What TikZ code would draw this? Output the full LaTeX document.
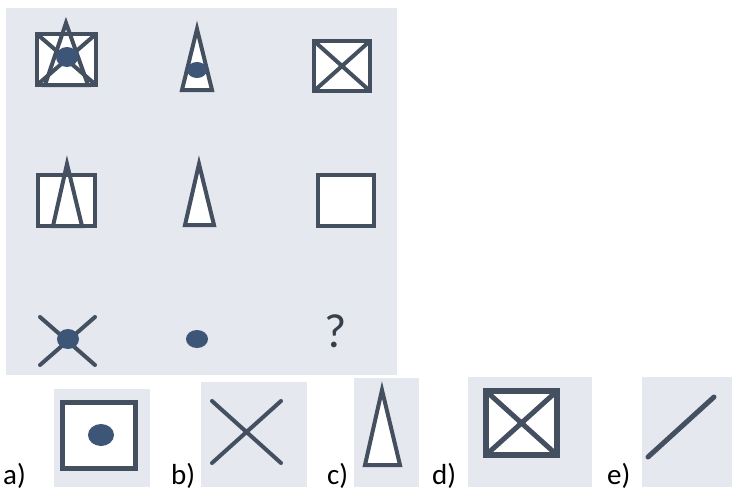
\documentclass[tikz,border=0pt]{standalone}
\usepackage{fontspec}
\setmainfont{Carlito}
\usepackage{tikz}
\usetikzlibrary{calc}
\definecolor{panel}{HTML}{E6E8EF}
\definecolor{ink}{HTML}{44505F}
\definecolor{spot}{HTML}{3D5677}
\tikzstyle{bg} = [fill=panel]
\tikzstyle{figbox} = [draw=ink, line width=4pt, fill=white]
\tikzstyle{figline} = [draw=ink, line width=4pt]
\tikzstyle{figcross} = [draw=ink, line width=4pt, line cap=round]
\tikzstyle{spotdot} = [fill=spot]
\tikzstyle{optlabel} = [font=\fontsize{29}{31}\selectfont, anchor=base west, inner sep=0pt, text=black]

\begin{document}
\begin{tikzpicture}[x=1pt, y=-1pt]
    \useasboundingbox (0,0) rectangle (732,491);
    \fill[white] (0,0) rectangle (732,491);

    % matrix
    \fill[bg] (6,8) rectangle (397,375);

    % row 1
    \draw[figbox] (37,34) rectangle (96,85);
    \draw[figline] (37,34) -- (96,85) (96,34) -- (37,85);
    \draw[figline] (66,23) -- (45,85) -- (88,85) -- cycle;
    \fill[spotdot] (67,57) ellipse (11 and 10);

    \draw[figline, fill=white] (197,29) -- (182,90) -- (212,90) -- cycle;
    \fill[spotdot] (197,70) ellipse (10 and 8);

    \draw[figbox] (314,41) rectangle (370,91);
    \draw[figline] (314,41) -- (370,91) (370,41) -- (314,91);

    % row 2
    \draw[figbox] (38,175) rectangle (95,226);
    \draw[figline] (67,164) -- (53,226) -- (82,226) -- cycle;

    \draw[figline, fill=white] (199,164) -- (185,225) -- (214,225) -- cycle;

    \draw[figbox] (318,175) rectangle (374,226);

    % row 3
    \draw[figcross] (40,317) -- (95,365) (95,317) -- (40,365);
    \fill[spotdot] (68,339) ellipse (11 and 10);

    \fill[spotdot] (197,339) ellipse (11 and 9);

    \node (q) [font=\fontsize{48}{50}\selectfont, text=ink!80!black, inner sep=0pt] at (336,331) {?};

    % answers
    \fill[bg] (54,389) rectangle (150,487);
    \draw[figbox, line width=5pt] (62,402) rectangle (135,468);
    \fill[spotdot] (101,435) ellipse (13 and 11);

    \fill[bg] (201,382) rectangle (307,487);
    \draw[figcross] (212,401) -- (281,463) (281,401) -- (212,463);

    \fill[bg] (354,378) rectangle (419,487);
    \draw[figline, fill=white] (382,390) -- (365,465) -- (400,465) -- cycle;

    \fill[bg] (468,377) rectangle (592,487);
    \draw[figbox, line width=6pt] (486,391) rectangle (557,455);
    \draw[figline, line width=5pt] (486,391) -- (557,455) (557,391) -- (486,455);

    \fill[bg] (642,377) rectangle (732,487);
    \draw[figcross, line width=5pt] (648,457) -- (714,397);

    \node (a) [optlabel] at (3,484) {a)};
    \node (b) [optlabel] at (171,484) {b)};
    \node (c) [optlabel] at (327,484) {c)};
    \node (d) [optlabel] at (432,484) {d)};
    \node (e) [optlabel] at (607,484) {e)};
\end{tikzpicture}
\end{document}
